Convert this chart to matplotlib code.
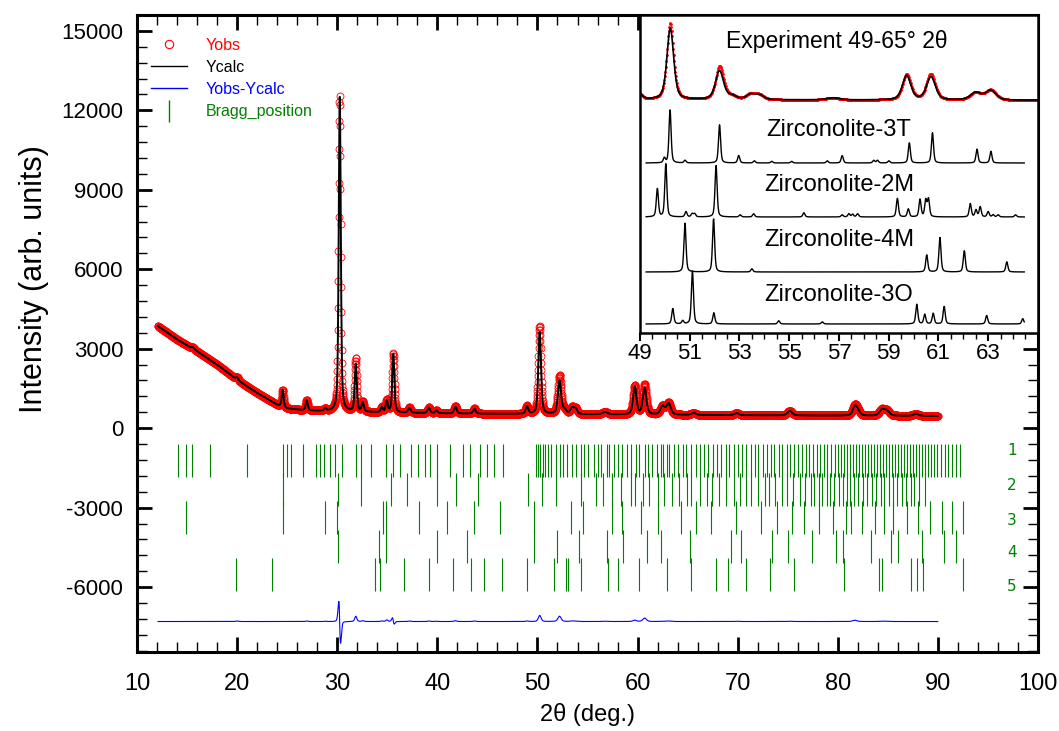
import numpy as np
import matplotlib.pyplot as plt
from matplotlib.lines import Line2D
from matplotlib.ticker import MultipleLocator

plt.rcParams['font.family'] = ['Liberation Sans', 'DejaVu Sans']
plt.rcParams['axes.unicode_minus'] = False

# background knots (2theta, counts)
bg_tth = [12.1, 14, 16, 18, 20, 22, 24, 25, 27, 30, 35, 40, 50, 60, 70, 80, 90]
bg_cnt = [3850, 3350, 2900, 2400, 1820, 1330, 880, 740, 660, 620, 590, 560, 530, 510, 490, 475, 460]

# reflections of the refined pattern
pk_pos = [15.6, 20.0, 24.55, 26.95, 28.8, 30.25, 31.85, 32.55, 34.45, 34.95, 35.6, 37.2,
          39.15, 39.9, 41.8, 43.7, 48.95, 50.22, 52.2, 52.7, 53.45, 53.8, 56.75, 59.72,
          60.7, 62.5, 63.1, 65.6, 69.9, 75.2, 81.7, 82.0, 84.4, 84.9, 87.8]
pk_calc = [60, 100, 650, 380, 90, 11950, 1800, 350, 180, 420, 2200, 180,
           200, 100, 250, 180, 280, 3100, 1250, 150, 220, 200, 90, 1050,
           1000, 320, 420, 80, 80, 170, 330, 150, 220, 180, 80]
pk_obs = [60, 120, 650, 400, 100, 11900, 2000, 380, 200, 480, 2230, 200,
          220, 110, 280, 200, 300, 3330, 1450, 150, 240, 210, 100, 1100,
          1130, 330, 440, 80, 90, 180, 380, 150, 230, 190, 80]
pk_fwhm = [0.3, 0.3, 0.22, 0.25, 0.25, 0.24, 0.25, 0.25, 0.25, 0.25, 0.25, 0.3,
           0.3, 0.3, 0.3, 0.3, 0.3, 0.32, 0.38, 0.4, 0.4, 0.4, 0.6, 0.4,
           0.42, 0.5, 0.5, 0.5, 0.5, 0.55, 0.5, 0.5, 0.6, 0.6, 0.6]
pk_shift = [0, 0, 0, 0, 0, -0.012, 0, 0, 0, 0, -0.01, 0,
            0, 0, 0, 0, 0, 0, 0, 0, 0, 0, 0, 0,
            0, 0, 0, 0, 0, 0, 0, 0, 0, 0, 0]

# Bragg positions of the 5 phases
bragg_1 = [14.1, 14.9, 15.5, 17.3, 21.0, 24.6, 25.0, 25.4, 26.6, 27.9, 28.3, 28.7, 29.3, 29.8,
           30.5, 31.9, 32.4, 33.4, 34.9, 35.6, 36.3, 37.4, 38.1, 38.8, 39.3, 40.0, 41.3, 42.6,
           43.3, 44.3, 45.0, 45.7, 46.6,
           49.9, 50.1, 50.3, 50.6, 50.8, 51.1, 51.4, 51.9, 52.2, 52.5, 52.9, 53.4, 53.8, 54.3,
           54.6, 55.0, 55.6, 56.0, 56.3, 56.9, 57.1, 57.6, 58.0, 58.4, 58.9, 59.3, 59.8, 60.1,
           60.7, 61.0, 61.4, 61.9, 62.3, 62.5, 62.9, 63.1, 63.6, 64.0, 64.5, 64.8, 65.3, 65.8,
           66.2, 66.6, 67.0, 67.5, 67.9, 68.3, 68.8, 69.1, 69.6, 70.0, 70.4, 70.8, 71.3, 71.7,
           72.0, 72.5, 72.9, 73.3, 73.6, 74.1, 74.4, 74.9, 75.2, 75.6, 76.0, 76.4, 76.8, 77.1,
           77.5, 77.9, 78.2, 78.6, 78.9, 79.3, 79.7, 80.0, 80.3, 80.6, 80.9, 81.2, 81.5, 81.8,
           82.1, 82.4, 82.7, 83.0, 83.3, 83.6, 83.9, 84.2, 84.5, 84.8, 85.1, 85.4, 85.7, 86.0,
           86.3, 86.6, 86.9, 87.2, 87.5, 87.8, 88.1, 88.4, 88.7, 89.0, 89.3, 89.6, 89.9, 90.3,
           90.7, 91.0, 91.4, 91.8, 92.2]
bragg_2 = [24.6, 30.1, 32.4, 35.4, 37.0, 40.0, 41.9, 44.1, 49.1, 50.5, 51.9, 54.3,
           55.8, 56.5, 57.4, 58.3, 59.3, 59.7, 60.5, 61.1, 62.0, 62.6, 63.4, 64.1, 64.9, 65.3,
           66.2, 66.9, 67.4, 68.1, 68.8, 69.6, 70.2, 70.8, 71.3, 72.0, 72.7, 73.1, 73.7, 74.4,
           74.9, 75.5, 76.2, 76.7, 77.3, 77.6, 78.1, 78.4, 78.9, 79.2, 79.6, 80.1, 80.5, 80.9,
           81.2, 81.6, 82.0, 82.5, 82.9, 83.4, 83.8, 84.3, 84.6, 85.1, 85.5, 85.9, 86.4, 86.8,
           87.3, 87.6, 88.1, 88.7]
bragg_3 = [14.9, 24.6, 28.8, 30.0, 34.6, 34.9, 38.2, 41.0, 43.7, 46.3, 49.7, 53.3, 54.5,
           57.4, 58.4, 60.3, 62.0, 64.3, 65.8, 67.3, 69.8, 72.3, 73.9, 75.4, 76.6, 78.1, 79.5,
           80.8, 81.3, 82.4, 83.7, 84.6, 85.5, 86.9, 88.0, 89.2, 90.4, 91.4, 92.5]
bragg_4 = [30.1, 34.2, 34.9, 40.0, 43.0, 49.7, 52.0, 54.1, 56.9, 58.5, 60.9, 62.3, 65.2,
           69.3, 70.3, 73.4, 75.0, 77.4, 79.8, 80.5, 83.3, 85.3, 86.0, 88.4, 90.6, 91.8]
bragg_5 = [19.9, 23.5, 33.8, 34.3, 36.7, 39.2, 41.6, 43.4, 44.7, 46.5, 49.0, 51.7, 52.8,
           53.0, 54.3, 57.0, 58.0, 60.1, 62.9, 65.3, 67.8, 69.0, 70.8, 73.2, 75.6, 80.6,
           84.1, 84.4, 87.3, 87.9, 88.5, 92.5]
bragg_rows = [bragg_1, bragg_2, bragg_3, bragg_4, bragg_5]
bragg_labels = ['1', '2', '3', '4', '5']
bragg_label_y = [-825, -2175, -3490, -4690, -5960]

# simulated phases shown in the inset (relative intensity, 100 = strongest)
sim_names = ['Zirconolite-3T', 'Zirconolite-2M', 'Zirconolite-4M', 'Zirconolite-3O']
sim_pos = [
    [49.98, 50.21, 50.81, 52.2, 52.97, 53.6, 54.3, 55.1, 56.53, 57.13, 58.4, 58.55, 59.01,
     59.83, 60.76, 62.55, 63.11],
    [49.70, 50.04, 50.85, 51.1, 51.2, 52.06, 53.03, 53.57, 55.59, 57.13, 57.4, 57.55, 57.75,
     59.35, 59.79, 60.26, 60.49, 60.6, 62.28, 62.51, 62.68, 63.0, 63.2, 63.4, 64.1],
    [50.81, 51.96, 53.5, 60.53, 61.06, 62.04, 63.75],
    [50.32, 50.72, 51.11, 51.97, 54.58, 56.33, 60.13, 60.45, 60.79, 61.23, 62.94, 64.39],
]
sim_int = [
    [9, 100, 5, 72, 14, 4, 3, 3, 4, 14, 5, 5, 4, 38, 57, 26, 22],
    [53, 100, 10, 6, 6, 97, 4, 6, 8, 4, 6, 5, 6, 35, 15, 33, 31, 33, 25, 13, 19, 10, 4, 4, 4],
    [92, 100, 6, 32, 65, 40, 19],
    [29, 6, 100, 21, 6, 4, 37, 18, 20, 33, 16, 10],
]


def pv(x, x0, h, w, eta=0.45):
    u = ((x - x0) / w) ** 2
    return h * (eta / (1 + 4 * u) + (1 - eta) * np.exp(-4 * np.log(2) * u))


tth = np.arange(12.1, 90.0, 0.02)
bg = np.interp(tth, bg_tth, bg_cnt)
ycalc = bg.copy()
yobs = bg.copy()
for p, hc, ho, w, s in zip(pk_pos, pk_calc, pk_obs, pk_fwhm, pk_shift):
    ycalc += pv(tth, p, hc, w)
    yobs += pv(tth, p + s, ho, w)
diff_offset = -7300
ydiff = yobs - ycalc + diff_offset

fig = plt.figure(figsize=(10.59, 7.31), dpi=100)
ax = fig.add_axes([0.1294, 0.1081, 0.8508, 0.8714])

ax.plot(tth, yobs, ls='none', marker='o', ms=5, mfc='none', mec='red', mew=0.6)
ax.plot(tth, ycalc, color='black', lw=1.4)
ax.plot(tth, ydiff, color='blue', lw=0.8)

row_top = -600
row_len = 1240
row_step = 1080
for i, row in enumerate(bragg_rows):
    top = row_top - i * row_step
    ax.vlines(row, top - row_len, top, color='green', lw=0.8)
    ax.text(97.4, bragg_label_y[i], bragg_labels[i], color='green', fontsize=11,
            family='DejaVu Sans', ha='center', va='center')

ax.set_xlim(10, 100)
ax.set_ylim(-8450, 15600)
ax.xaxis.set_major_locator(MultipleLocator(10))
ax.xaxis.set_minor_locator(MultipleLocator(2))
ax.yaxis.set_minor_locator(MultipleLocator(600))
ax.set_yticks(np.arange(-6000, 15001, 3000))
ax.tick_params(which='major', direction='in', length=11, width=2, top=True, right=True)
ax.tick_params(which='minor', direction='in', length=7, width=1, top=True, right=True)
ax.tick_params(axis='y', labelsize=16, pad=10)
ax.tick_params(axis='x', labelsize=17, pad=15)
for sp in ax.spines.values():
    sp.set_linewidth(2.2)
ax.set_xlabel('2θ (deg.)', fontsize=17, labelpad=6)
ax.set_ylabel('Intensity (arb. units)', fontsize=22)
ax.yaxis.set_label_coords(-0.098, 0.585)

handles = [
    Line2D([], [], ls='none', marker='o', mfc='none', mec='red', ms=6, mew=0.8),
    Line2D([], [], color='black', lw=1),
    Line2D([], [], color='blue', lw=1),
    Line2D([], [], ls='none', marker='|', color='green', ms=16, mew=1),
]
ax.legend(handles, ['Yobs', 'Ycalc', 'Yobs-Ycalc', 'Bragg_position'], loc='upper left',
          bbox_to_anchor=(0.0, 0.987), frameon=False, fontsize=11.5, handlelength=2.2,
          labelspacing=0.45, handletextpad=1.2,
          labelcolor=['red', 'black', 'blue', 'green'])

# inset
ins = fig.add_axes([0.6043, 0.5445, 0.3758, 0.435])
ins.set_xlim(49, 65)
ins.set_ylim(0, 318)
m = (tth >= 49) & (tth <= 65)
ins.plot(tth[m], 231 + (yobs[m] - 430) * 0.023, ls='none', marker='o', ms=2, color='red',
         mew=0)
ins.plot(tth[m], 231 + (ycalc[m] - 430) * 0.023, color='black', lw=1.2)
ins.text(56.9, 291, 'Experiment 49-65° 2θ', fontsize=16.5, ha='center', va='center')

sim_base = [170, 116, 61, 9]
sim_label_y = [203, 148, 93, 38]
xs = np.arange(49.25, 64.45, 0.005)
for name, pos, inten, b, ly in zip(sim_names, sim_pos, sim_int, sim_base, sim_label_y):
    ys = np.full_like(xs, b, dtype=float)
    for p, h in zip(pos, inten):
        ys += pv(xs, p, h * 0.53, 0.1)
    ins.plot(xs, ys, color='black', lw=1)
    ins.text(57.0, ly, name, fontsize=17, ha='center', va='center')

ins.set_yticks([])
ins.xaxis.set_minor_locator(MultipleLocator(0.5))
ins.set_xticks(np.arange(49, 64, 2))
ins.tick_params(which='major', direction='out', length=6, width=1.5, labelsize=16, pad=1)
ins.tick_params(which='minor', direction='out', length=4, width=1)
for sp in ins.spines.values():
    sp.set_linewidth(1.8)

fig.savefig('out.png', dpi=100)
